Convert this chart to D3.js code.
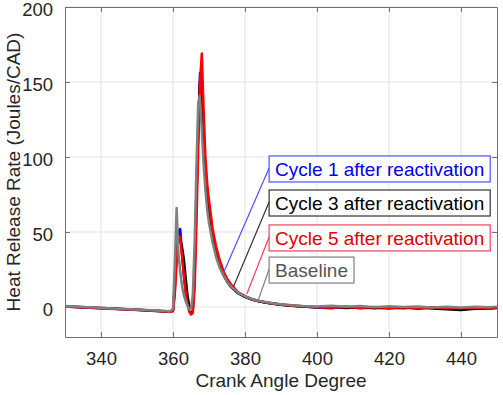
<!DOCTYPE html>
<html lang="en">
<head>
<meta charset="UTF-8">
<title>Heat Release Rate</title>
<script src="https://d3js.org/d3.v7.min.js"></script>
<style>
    body { margin: 0; background: #fff; }
    svg { display: block; font-family: 'Liberation Sans', Arial, Helvetica, sans-serif; }
</style>
</head>
<body>
<div id="chart"></div>
<script>
// Crank angle grid (CAD)
const angles = [330, 334, 338, 342, 346, 350, 354, 358, 359, 360,
    360.5, 361, 361.5, 362, 362.5, 363, 363.5, 364, 364.5, 365,
    365.5, 366, 366.5, 367, 367.5, 368, 368.5, 369, 369.5, 370,
    371, 372, 373, 374, 375, 376, 378, 380, 382, 384,
    386, 388, 390, 393, 396, 400, 404, 408, 412, 416,
    420, 424, 428, 432, 436, 440, 444, 448, 450];

// Heat release rate (Joules/CAD)
const cycle1 = [0.3, -0.2, -0.6, -1.0, -1.4, -1.9, -2.4, -2.9, -3.1, -2.5,
    12, 35, 50, 52, 36, 22, 10, 3, -1, -3,
    -2, 20, 70, 118, 156, 150, 112, 88, 72, 62,
    47, 36, 28, 22, 17.5, 14, 9.5, 6.8, 5, 3.7,
    2.8, 2.1, 1.5, 0.8, 0.3, -0.3, -0.8, 0.1, -0.9, -0.3,
    -1.0, -0.2, -1.1, -0.4, -0.9, -1.3, -0.5, -1.0, -0.6];
const cycle3 = [0.5, 0.0, -0.5, -0.9, -1.5, -1.8, -2.5, -3.0, -3.2, -2.2,
    15, 38, 44, 45, 40, 32, 20, 8, 1, -3,
    -1, 24, 75, 120, 150, 140, 108, 86, 70, 60,
    46, 35, 27.5, 21.5, 17, 13.6, 9.3, 6.8, 5, 3.8,
    2.9, 2.2, 1.5, 0.9, 0.4, -0.2, 0.3, -0.6, -0.1, -0.8,
    -0.3, -0.9, -0.2, -1.0, -1.5, -2.0, -1.2, -0.8, -0.5];
const cycle5 = [0.4, -0.1, -0.5, -1.1, -1.5, -2.0, -2.4, -3.0, -3.3, -2.8,
    8, 30, 46, 47, 34, 22, 10, 2, -3, -5,
    -4, 12, 55, 105, 150, 169, 132, 100, 82, 71,
    52, 40, 31, 24, 19, 15.5, 10, 7.2, 5.2, 4,
    3, 2.3, 1.7, 1, 0.5, -0.1, -0.5, 0.2, -0.6, 0,
    -0.7, -0.1, -0.8, -0.2, -0.6, -0.9, -0.3, -0.7, -0.4];
const baseline = [0.6, 0.1, -0.4, -0.8, -1.3, -1.7, -2.2, -2.7, -3.0, -1.5,
    28, 66, 36, 24, 14, 8, 4, 1, -1.5, -2,
    8, 42, 92, 136, 141, 118, 95, 78, 65, 56,
    43, 33, 26, 21, 17, 14, 9.6, 7, 5.2, 4,
    3.1, 2.4, 1.8, 1.1, 0.7, 0.4, 0.9, 0.2, 0.6, -0.1,
    0.5, 0.0, 0.4, -0.3, 0.2, -0.4, 0.1, -0.2, 0.1];

const seriesNames = ['Cycle 1 after reactivation', 'Cycle 3 after reactivation',
    'Cycle 5 after reactivation', 'Baseline'];
const seriesValues = [cycle1, cycle3, cycle5, baseline];
const seriesColors = ['#0000ff', '#000000', '#ff0000', '#808080'];

// annotation boxes: [box left CAD, box top value, pointer CAD, pointer value]
const notePos = [
    [386.7, 100.7, 373.9, 22],
    [386.7, 78, 376.8, 13.5],
    [386.7, 54.7, 380.5, 8.7],
    [386.7, 33.3, 383.7, 4.7]
];
const noteText = ['#0000e6', '#000000', '#e00000', '#555555'];
const noteEdge = ['#5050ff', '#333333', '#f04060', '#808080'];

const xTicks = [340, 360, 380, 400, 420, 440];
const yTicks = [0, 50, 100, 150, 200];

const W = 503, H = 395;
const margin = { top: 7, right: 6, bottom: 58, left: 65 };
const pw = W - margin.left - margin.right;
const ph = H - margin.top - margin.bottom;

const svg = d3.select('#chart').append('svg')
    .attr('width', W).attr('height', H);
const g = svg.append('g').attr('transform', `translate(${margin.left},${margin.top})`);

const x = d3.scaleLinear().domain([330, 450]).range([0, pw]);
const y = d3.scaleLinear().domain([-20, 200]).range([ph, 0]);

// grid
g.append('g').selectAll('line').data(xTicks).enter().append('line')
    .attr('x1', d => x(d)).attr('x2', d => x(d)).attr('y1', 0).attr('y2', ph)
    .attr('stroke', '#e3e3e3').attr('stroke-width', 1);
g.append('g').selectAll('line').data(yTicks).enter().append('line')
    .attr('y1', d => y(d)).attr('y2', d => y(d)).attr('x1', 0).attr('x2', pw)
    .attr('stroke', '#e3e3e3').attr('stroke-width', 1);

// curves
const line = d3.line()
    .x((d, i) => x(angles[i]))
    .y(d => y(d));
seriesValues.forEach((vals, k) => {
    g.append('path')
        .datum(vals)
        .attr('d', line)
        .attr('fill', 'none')
        .attr('stroke', seriesColors[k])
        .attr('stroke-width', 2.5)
        .attr('stroke-linejoin', 'round');
});

// axes (box with inward ticks)
const axisColor = '#707070';
const tickLen = 5;
function styleAxis(sel) {
    sel.select('.domain').attr('stroke', axisColor);
    sel.selectAll('.tick line').attr('stroke', axisColor);
    sel.selectAll('.tick text').attr('fill', '#262626').attr('font-size', 18.5);
}
const xb = g.append('g').attr('transform', `translate(0,${ph})`)
    .call(d3.axisBottom(x).tickValues(xTicks).tickSizeInner(-tickLen).tickSizeOuter(0).tickPadding(10));
styleAxis(xb);
xb.selectAll('.tick text').attr('dy', '0.95em');
const xt = g.append('g')
    .call(d3.axisTop(x).tickValues(xTicks).tickSizeInner(-tickLen).tickSizeOuter(0).tickFormat(''));
styleAxis(xt);
const yl = g.append('g')
    .call(d3.axisLeft(y).tickValues(yTicks).tickSizeInner(-tickLen).tickSizeOuter(0).tickPadding(12));
styleAxis(yl);
yl.selectAll('.tick text').attr('dy', '0.45em');
const yr = g.append('g').attr('transform', `translate(${pw},0)`)
    .call(d3.axisRight(y).tickValues(yTicks).tickSizeInner(-tickLen).tickSizeOuter(0).tickFormat(''));
styleAxis(yr);

// axis labels
svg.append('text')
    .attr('x', margin.left + pw / 2).attr('y', 387)
    .attr('text-anchor', 'middle').attr('font-size', 19).attr('fill', '#262626')
    .text('Crank Angle Degree');
svg.append('text')
    .attr('transform', `translate(20,${margin.top + ph / 2}) rotate(-90)`)
    .attr('text-anchor', 'middle').attr('font-size', 19).attr('fill', '#262626')
    .text('Heat Release Rate (Joules/CAD)');

// annotations
const boxH = 26;
notePos.forEach((p, k) => {
    const bx = x(p[0]), by = y(p[1]);
    const tx = x(p[2]), ty = y(p[3]);
    g.append('line')
        .attr('x1', bx).attr('y1', by + boxH / 2 - 1)
        .attr('x2', tx).attr('y2', ty)
        .attr('stroke', noteEdge[k]).attr('stroke-width', 1.2);
    const t = g.append('text')
        .attr('x', bx + 6).attr('y', by + boxH / 2 + 7)
        .attr('font-size', 19).attr('fill', noteText[k])
        .text(seriesNames[k]);
    const tw = t.node().getComputedTextLength();
    g.insert('rect', () => t.node())
        .attr('x', bx).attr('y', by)
        .attr('width', tw + 12).attr('height', boxH)
        .attr('fill', '#fff')
        .attr('stroke', noteEdge[k]).attr('stroke-width', 1.2);
});
</script>
</body>
</html>
